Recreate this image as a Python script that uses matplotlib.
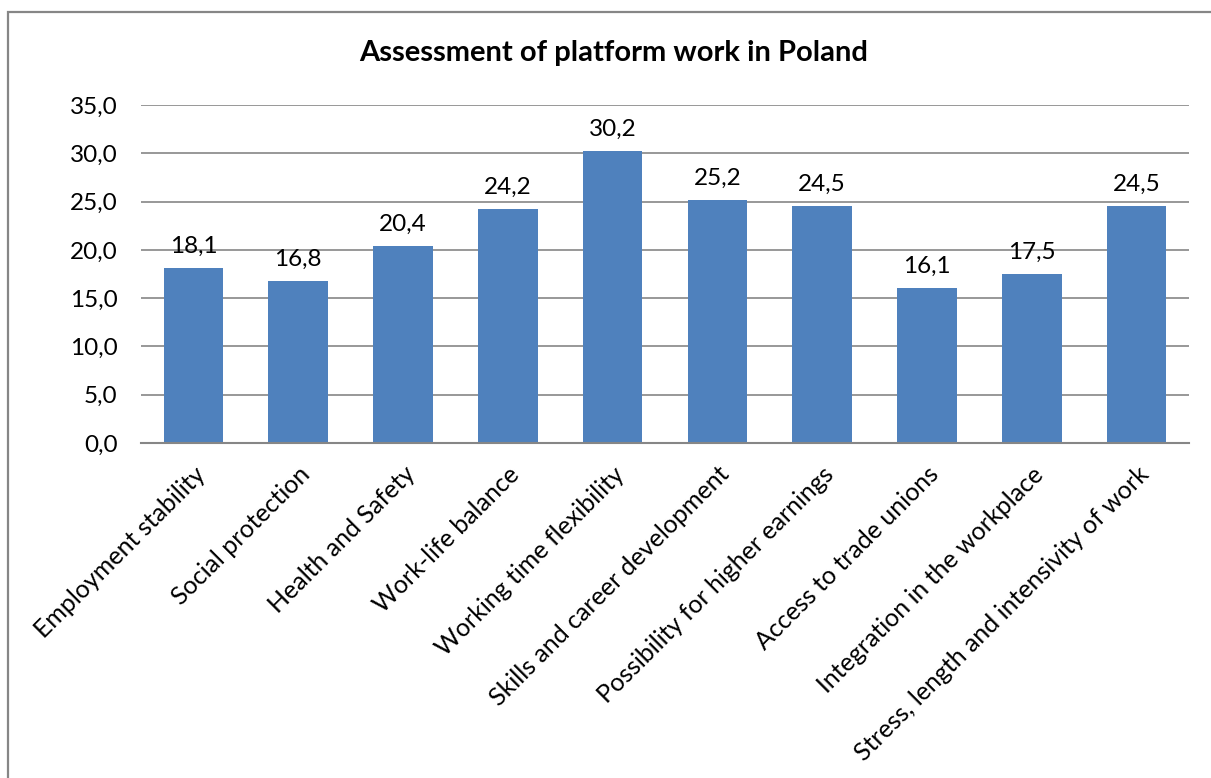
import matplotlib.pyplot as plt
from matplotlib.patches import Rectangle

categories = [
    "Employment stability",
    "Social protection",
    "Health and Safety",
    "Work-life balance",
    "Working time flexibility",
    "Skills and career development",
    "Possibility for higher earnings",
    "Access to trade unions",
    "Integration in the workplace",
    "Stress, length and intensivity of work",
]
values = [18.1, 16.8, 20.4, 24.2, 30.2, 25.2, 24.5, 16.1, 17.5, 24.5]
yticks = [0, 5, 10, 15, 20, 25, 30, 35]

bar_color = "#4F81BD"
grid_color = "#868686"

plt.rcParams["font.family"] = ["Lato", "DejaVu Sans"]


def comma(v):
    return f"{v:.1f}".replace(".", ",")


fig = plt.figure(figsize=(12.11, 7.78), dpi=100)
ax = fig.add_axes([141 / 1211, 335 / 778, 1048 / 1211, 338 / 778])

x = range(len(categories))
ax.bar(x, values, width=0.57, color=bar_color, zorder=3)

for xi, v in zip(x, values):
    ax.annotate(comma(v), (xi, v), xytext=(0, 8), textcoords="offset points",
                ha="center", va="bottom", fontsize=17.5, color="black")

ax.set_xlim(-0.5, len(categories) - 0.5)
ax.set_ylim(0, 35)
ax.set_yticks(yticks)
ax.set_yticklabels([comma(t) for t in yticks], fontsize=17.5)
ax.set_xticks(list(x))
ax.set_xticklabels(categories, rotation=45, ha="right", rotation_mode="anchor",
                   fontsize=18)
ax.tick_params(axis="both", length=0)
ax.tick_params(axis="y", pad=17)
ax.tick_params(axis="x", pad=14)

ax.yaxis.grid(True, color=grid_color, linewidth=1.2, zorder=0)
for side in ["top", "right", "left"]:
    ax.spines[side].set_visible(False)
ax.spines["bottom"].set_color(grid_color)
ax.spines["bottom"].set_linewidth(1.5)
ax.spines["bottom"].set_zorder(4)

fig.text(614 / 1211, 1 - 53 / 778, "Assessment of platform work in Poland",
         ha="center", va="center", fontsize=21, fontweight="bold")

# outer chart border, open on the right and bottom
top = 1 - 12 / 778
fig.patches.append(Rectangle((8 / 1211, -0.1), 1.2, top + 0.1,
                             transform=fig.transFigure, fill=False,
                             edgecolor=grid_color, linewidth=1.6))

fig.savefig("out.png", dpi=100)
